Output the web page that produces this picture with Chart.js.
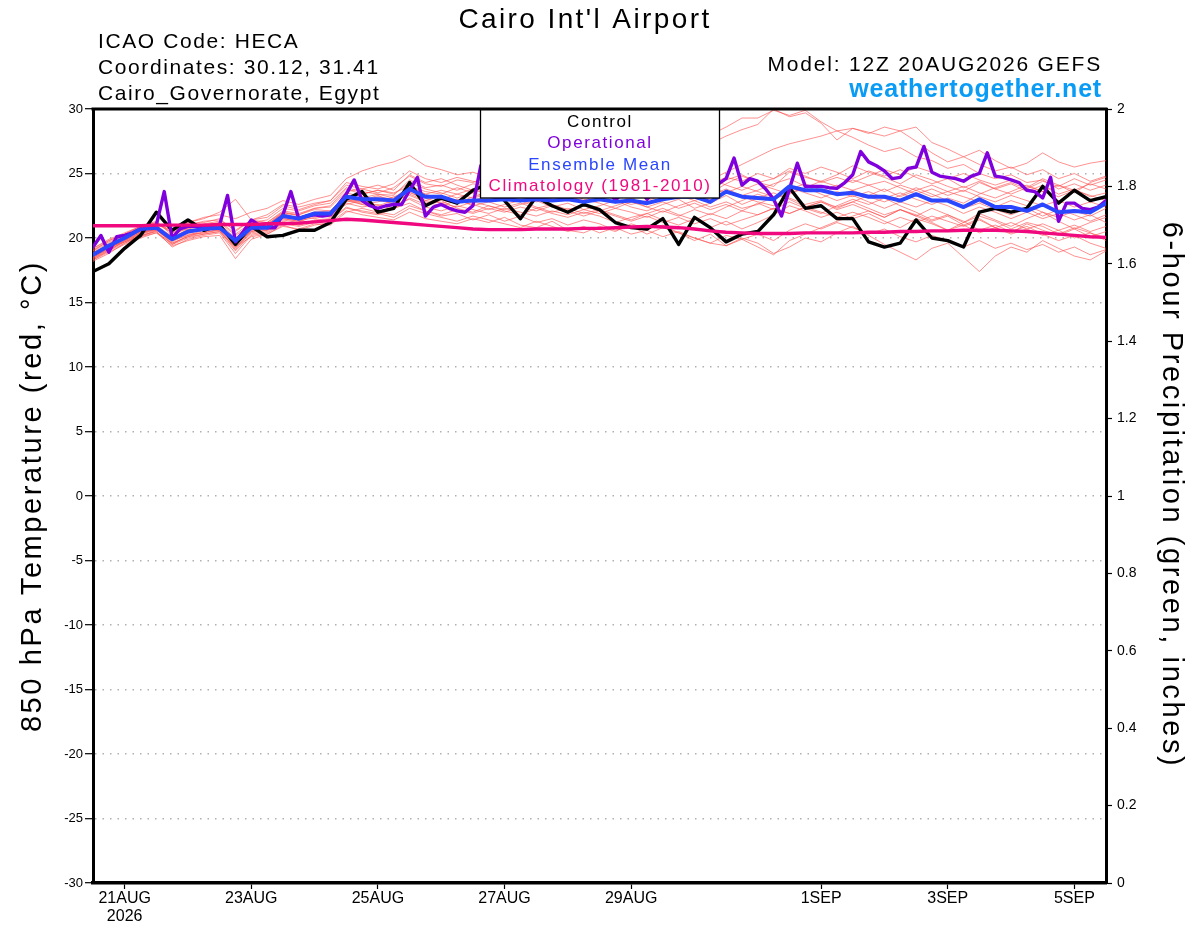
<!DOCTYPE html>
<html lang="en">
<head>
<meta charset="UTF-8">
<title>Cairo Int'l Airport - GEFS 850 hPa Temperature</title>
<script src="https://cdn.jsdelivr.net/npm/chart.js@4.4.0/dist/chart.umd.min.js"></script>
<style>
  html, body { margin: 0; padding: 0; background: #fff; }
  canvas { display: block; }
</style>
</head>
<body>
<canvas id="plume" width="1200" height="927"></canvas>
<script>
// forecast hours from 12Z 20AUG2026 (6-hourly for GEFS, 3-hourly for operational)
const hours6 = Array.from({length: 65}, (_, i) => i * 6);
const hours3 = Array.from({length: 129}, (_, i) => i * 3);

const dateTicks = [12, 60, 108, 156, 204, 276, 324, 372];
const dateLabels = [['21AUG', '2026'], '23AUG', '25AUG', '27AUG', '29AUG', '1SEP', '3SEP', '5SEP'];

const control = [17.4,18.0,19.2,20.2,22.0,20.6,21.4,20.6,21.0,19.5,
  20.9,20.1,20.2,20.6,20.6,21.2,23.0,23.6,22.0,22.3,
  24.3,22.5,23.1,22.7,23.7,24.2,22.9,21.5,23.2,22.5,
  22.0,22.6,22.2,21.2,20.8,20.7,21.5,19.5,21.6,20.8,
  19.7,20.3,20.5,21.8,23.9,22.3,22.5,21.5,21.5,19.7,
  19.3,19.6,21.4,20.0,19.8,19.3,22.0,22.3,22.0,22.3,
  24.0,22.7,23.7,22.9,23.2];

const operational = [19.3,20.2,18.9,20.1,20.2,20.4,20.7,20.8,21.0,23.6,
  20.0,20.7,20.9,20.9,20.9,20.9,21.0,23.3,19.7,20.5,
  21.4,21.0,20.8,20.8,21.8,23.6,21.5,21.7,21.8,21.7,
  21.8,22.6,23.4,24.5,22.9,22.5,22.3,22.5,22.6,22.6,
  23.7,24.7,21.7,22.4,22.6,22.3,22.1,22.0,22.5,25.6,
  24.0,23.8,24.5,24.0,23.6,24.2,23.8,24.5,24.1,23.7,
  24.3,23.9,24.6,24.0,23.5,23.8,22.9,23.6,24.2,23.8,
  23.0,23.7,24.3,24.0,23.6,24.4,24.0,23.7,23.9,24.2,
  24.6,26.2,24.1,24.6,24.4,23.8,23.0,21.7,23.8,25.8,
  24.0,24.0,24.0,23.9,23.85,24.3,24.9,26.7,25.9,25.6,
  25.2,24.6,24.7,25.4,25.5,27.1,25.1,24.8,24.7,24.6,
  24.4,24.8,25.0,26.6,24.8,24.7,24.5,24.3,23.7,23.6,
  23.1,24.7,21.3,22.7,22.7,22.3,22.2,22.4,22.9];

const ensMean = [18.7,19.4,20.0,20.7,20.8,19.9,20.5,20.7,20.8,19.8,
  20.8,20.8,21.7,21.5,21.9,21.9,23.2,23.0,23.0,22.9,
  23.8,23.2,23.2,22.8,22.9,22.9,23.0,22.9,23.0,22.9,
  23.0,22.8,23.0,22.8,22.9,22.7,23.0,23.2,23.2,22.8,
  23.6,23.2,23.1,23.0,24.0,23.7,23.7,23.4,23.5,23.2,
  23.2,22.9,23.4,22.9,22.9,22.4,23.0,22.4,22.4,22.1,
  22.6,22.0,22.1,22.0,22.7];

const climatology = [20.95,20.95,20.95,20.95,21.0,21.0,21.0,21.0,21.05,21.05,
  21.05,21.1,21.1,21.15,21.25,21.35,21.45,21.4,21.3,21.2,
  21.1,21.0,20.9,20.8,20.7,20.65,20.65,20.65,20.7,20.7,
  20.7,20.75,20.75,20.8,20.85,20.9,20.85,20.8,20.7,20.55,
  20.45,20.4,20.35,20.35,20.35,20.4,20.4,20.4,20.4,20.45,
  20.45,20.5,20.5,20.55,20.55,20.6,20.6,20.6,20.55,20.5,
  20.4,20.3,20.2,20.1,20.05];

const members = [
  [19.0,19.8,20.3,20.9,21.3,20.2,20.8,21.1,21.3,20.3,21.2,21.4,22.3,22.1,22.5,22.7,
   23.9,23.6,23.4,23.3,24.5,23.9,24.1,23.7,24.2,24.0,24.3,24.1,24.6,24.4,24.9,25.2,
   25.6,25.9,26.3,26.1,26.8,27.2,27.5,28.0,28.6,29.3,29.3,29.9,29.5,29.9,29.0,28.3,
   27.8,27.2,26.7,27.0,26.3,26.0,25.4,25.7,25.0,24.6,24.9,24.3,24.5,23.8,24.2,23.7,24.1],
  [18.5,19.2,19.8,20.4,20.9,20.0,20.6,20.6,21.0,19.6,20.7,21.0,22.0,21.8,22.3,22.4,
   23.6,23.8,23.5,23.9,24.8,24.2,24.0,24.5,24.3,24.8,25.1,24.7,25.0,25.3,25.0,25.6,
   25.4,25.9,25.6,26.0,26.3,26.0,26.6,27.3,27.9,28.4,28.8,30.0,29.4,29.7,28.9,27.6,
   28.5,28.2,27.9,28.3,28.6,27.4,26.9,26.3,26.8,26.0,25.4,25.8,26.6,25.9,25.5,25.8,26.0],
  [19.2,19.9,20.4,20.9,21.1,20.6,21.2,21.6,21.8,21.5,22.0,22.3,22.9,22.6,23.0,23.3,
   24.6,25.2,25.6,25.9,26.4,25.6,25.3,24.9,25.1,24.7,24.3,24.6,24.0,23.8,24.3,23.9,
   23.6,24.1,23.8,23.3,23.9,24.4,23.8,23.5,24.2,24.8,24.3,24.0,25.1,24.7,24.4,24.9,
   25.6,25.1,24.7,24.2,24.9,24.5,24.0,23.6,24.3,23.8,23.4,23.9,24.6,24.1,23.5,24.3,24.7],
  [18.3,18.9,19.5,20.0,20.4,19.4,19.8,20.1,20.2,18.4,19.9,20.3,21.0,20.6,21.0,21.2,
   22.1,21.8,21.6,21.4,22.0,21.5,21.3,21.1,21.5,21.2,21.6,21.0,20.8,21.3,20.6,20.4,
   20.9,20.5,21.1,20.7,21.0,20.4,19.8,20.3,19.4,20.0,19.6,18.8,19.3,20.0,19.7,20.4,
   20.9,20.2,19.5,18.9,18.3,19.2,19.6,18.5,17.4,18.6,19.3,18.9,19.8,19.2,18.6,18.3,19.0],
  [18.6,19.3,19.9,20.5,20.6,19.7,20.3,20.4,20.7,19.3,20.4,20.6,21.4,21.2,21.8,21.6,
   22.7,22.4,22.6,22.2,23.1,22.6,22.9,22.3,22.0,22.5,22.1,21.8,22.3,21.9,21.6,22.0,
   21.7,21.2,21.6,21.9,21.4,21.0,21.5,20.8,21.3,20.7,21.2,21.8,22.5,22.1,21.6,22.0,
   21.5,21.9,21.3,20.8,21.5,21.1,20.6,21.2,21.9,21.4,20.9,21.5,22.0,21.3,20.7,21.2,21.6],
  [18.9,19.5,20.1,20.7,21.0,20.1,20.4,20.9,21.1,20.0,21.1,21.0,21.9,21.8,22.2,22.1,
   23.3,23.1,23.4,23.1,24.0,23.6,23.4,23.9,23.5,23.8,24.2,23.7,23.4,23.9,24.1,23.6,
   23.9,23.4,23.1,23.6,23.9,24.4,24.0,23.6,24.5,24.9,24.3,24.6,25.4,25.0,25.5,25.1,
   24.6,25.2,24.8,25.3,24.7,24.2,24.6,23.9,24.4,23.8,24.2,23.6,24.1,23.4,23.8,23.2,23.5],
  [18.4,19.1,19.7,20.3,20.7,19.6,20.1,20.5,20.6,19.2,20.6,20.9,21.5,21.3,21.6,21.8,
   22.9,22.6,22.8,23.2,23.6,22.9,22.7,22.4,22.8,22.5,22.2,22.6,22.9,22.4,22.7,22.2,
   22.5,22.9,22.4,22.1,22.6,23.0,22.3,22.7,23.3,22.6,23.1,23.5,23.0,22.4,22.8,22.2,
   22.6,22.1,21.6,22.2,21.8,21.3,21.7,21.0,21.5,20.8,20.4,21.1,20.6,20.2,20.7,20.1,20.5],
  [18.7,19.4,20.1,20.6,20.9,20.0,20.7,20.6,20.9,19.9,20.7,20.7,21.6,21.4,21.9,22.0,
   23.5,23.2,22.9,22.7,23.9,23.4,23.0,22.7,23.2,23.5,23.1,22.8,23.3,23.6,23.2,22.9,
   23.4,23.0,22.6,22.9,23.3,23.7,23.4,23.0,23.6,23.2,22.8,22.5,23.1,22.6,22.9,22.3,
   22.8,23.3,23.8,23.2,23.7,24.1,23.6,23.2,22.8,22.4,22.9,22.5,22.0,21.6,22.1,21.7,22.3],
  [18.2,18.8,19.6,20.2,20.5,19.3,19.9,20.2,20.4,18.8,20.2,20.4,21.1,20.9,21.2,21.4,
   22.4,22.0,21.8,22.3,22.7,22.1,21.7,21.9,21.4,21.8,21.3,21.7,21.2,21.5,21.0,21.4,
   21.1,20.6,20.9,20.3,20.8,20.4,20.0,19.6,20.2,19.9,19.3,18.7,19.8,20.3,20.8,21.3,
   21.7,22.1,21.6,22.2,21.7,22.3,21.8,21.2,21.7,21.3,20.7,21.2,20.9,20.3,20.8,20.4,20.0],
  [19.1,19.7,20.2,20.7,21.1,20.4,21.0,21.3,21.4,20.6,21.4,21.6,22.5,22.2,22.6,22.9,
   24.1,23.8,24.1,23.7,24.9,24.3,24.6,24.1,23.7,24.0,23.6,23.3,23.8,23.5,23.1,23.4,
   23.0,23.5,23.9,24.3,23.8,23.4,23.9,24.5,25.1,25.7,26.3,26.9,27.3,27.6,27.9,28.3,
   28.5,28.1,28.6,28.3,27.5,26.6,25.9,26.3,25.7,25.2,25.5,24.9,25.3,24.6,25.0,24.4,24.8],
  [18.8,19.5,20.0,20.5,20.8,19.8,20.5,20.8,20.7,19.6,20.9,20.9,21.8,21.6,22.0,21.9,
   23.0,22.7,23.1,22.8,23.4,22.9,23.3,22.7,22.9,23.3,23.7,23.2,22.8,23.1,23.5,23.0,
   22.7,22.3,22.8,22.4,22.0,22.5,22.9,22.4,22.8,22.3,22.6,23.2,23.8,24.2,23.7,23.3,
   23.7,23.2,22.8,23.3,23.9,23.4,22.9,22.3,22.7,22.2,21.8,22.3,21.7,22.2,21.8,21.3,21.8],
  [18.5,19.2,19.9,20.4,20.7,19.8,20.2,20.6,20.8,19.5,20.5,20.6,21.3,21.0,21.4,21.5,
   22.8,23.0,22.5,22.9,23.3,22.8,22.5,22.9,22.6,22.2,22.6,22.9,22.4,22.0,22.3,21.9,
   22.2,21.8,21.4,21.9,22.3,21.8,21.4,21.9,21.5,22.1,22.7,22.2,22.8,22.3,21.9,22.5,
   23.0,22.6,23.1,22.5,22.0,21.4,21.8,21.3,20.6,21.0,20.5,20.9,20.3,19.8,20.2,19.6,19.2],
  [18.6,19.3,19.7,20.2,20.5,19.5,20.0,20.3,20.5,19.0,20.3,20.5,21.2,21.0,21.3,21.4,
   22.3,22.1,21.9,21.6,22.3,21.9,21.6,21.3,21.7,21.4,21.1,20.8,21.3,20.9,20.5,20.9,
   20.4,20.8,20.3,20.6,20.1,20.5,20.0,19.6,19.4,19.9,20.3,19.8,20.6,21.1,20.7,21.2,
   20.8,20.3,20.7,20.1,19.7,20.2,19.8,19.3,19.8,19.2,19.6,19.1,19.5,18.9,19.3,18.7,19.1],
  [19.0,19.6,20.2,20.8,21.2,20.4,20.7,21.0,21.2,20.2,21.0,21.2,22.1,21.9,22.3,22.5,
   23.8,23.4,23.7,23.4,24.3,23.8,23.5,23.1,23.5,23.2,23.5,23.9,23.6,23.2,23.6,23.8,
   23.5,23.8,24.2,23.9,24.5,24.1,24.6,24.2,24.7,24.4,25.0,24.6,25.2,24.8,24.3,24.7,
   24.3,24.8,25.3,24.9,25.5,25.1,24.6,25.0,24.5,24.1,24.5,24.0,23.6,24.1,23.7,24.2,23.8],
  [18.4,19.0,19.6,20.1,20.6,20.2,21.2,21.5,22.0,23.0,21.4,21.2,22.0,21.7,21.5,21.8,
   22.6,22.9,23.3,22.8,23.5,23.1,22.7,23.0,22.5,22.8,22.4,22.7,22.3,22.6,22.2,22.5,
   22.1,22.5,22.9,22.4,22.8,22.3,22.7,22.2,22.6,22.1,21.8,22.3,21.9,22.4,22.0,21.6,
   22.0,21.6,21.1,21.6,21.2,21.7,21.3,20.9,21.4,20.8,21.2,20.7,21.1,20.6,21.0,20.5,20.9],
  [18.8,19.4,20.0,20.5,20.8,19.9,20.6,20.8,21.0,19.7,20.8,21.1,21.9,21.5,22.0,22.1,
   23.2,23.4,23.7,23.5,24.0,23.4,23.7,23.4,23.1,23.4,23.0,23.4,23.7,23.3,23.0,23.3,
   23.7,23.3,23.0,23.4,23.0,23.3,22.9,23.3,23.8,23.3,23.7,24.2,24.6,24.0,23.6,24.1,
   23.7,24.1,24.4,23.9,23.4,23.8,23.3,23.7,23.2,22.8,23.3,22.9,22.5,22.9,22.4,22.8,22.4],
  [18.3,19.0,19.8,20.4,20.7,19.5,20.2,20.4,20.6,19.1,20.5,20.8,21.5,21.3,21.8,21.7,
   23.0,22.6,22.3,22.6,23.0,22.4,22.1,22.5,22.2,21.9,22.3,22.0,21.7,22.1,21.8,22.2,
   21.9,22.3,22.0,21.6,22.1,21.7,22.2,21.8,22.4,22.9,23.4,23.0,23.5,23.9,23.4,22.9,
   23.3,22.8,22.3,22.8,22.4,22.9,22.5,21.9,22.4,22.0,21.5,22.0,21.5,21.9,21.4,21.8,21.2],
  [19.2,19.8,20.3,20.9,21.2,20.5,21.1,21.2,21.5,20.5,21.4,21.8,22.6,22.4,22.7,22.9,
   24.3,24.0,23.8,24.2,25.2,24.6,24.3,24.7,24.4,24.1,24.5,24.2,24.6,24.3,24.0,24.4,
   24.1,24.5,24.1,23.8,24.2,23.8,23.5,23.9,23.5,24.0,23.6,23.2,23.9,23.5,23.1,23.6,
   23.2,23.6,23.1,23.5,23.0,22.6,23.1,22.7,23.4,23.9,24.3,23.8,24.4,24.0,24.6,24.1,24.5],
  [18.6,19.2,19.8,20.3,20.6,19.8,20.4,20.6,20.9,19.4,20.6,20.7,21.6,21.5,21.9,21.8,
   23.1,22.8,23.2,23.0,23.7,23.3,23.0,23.4,23.8,23.4,23.9,24.3,23.9,24.4,24.1,23.7,
   24.0,23.6,23.9,24.4,24.8,24.3,24.0,24.6,24.1,23.7,24.2,23.8,23.4,23.9,24.4,24.0,
   24.5,24.1,23.6,24.1,23.7,23.2,23.6,24.0,23.5,23.1,23.6,24.1,23.6,23.2,23.7,23.3,22.9],
  [18.5,19.1,19.7,20.1,20.4,19.6,20.1,20.3,20.5,19.3,20.1,20.3,20.9,20.7,21.1,21.0,
   22.0,22.3,22.0,21.8,22.5,22.1,21.8,22.2,21.9,22.3,22.0,22.4,22.1,22.5,22.1,21.7,
   22.1,21.7,21.3,21.7,21.2,21.6,21.1,21.5,21.0,21.4,21.8,22.3,21.9,22.4,22.8,22.4,
   22.8,22.3,21.8,22.2,21.7,21.2,20.6,21.0,20.4,20.8,20.3,20.7,20.2,20.6,20.0,20.4,19.8]
];

const tempTicks = { min: -30, max: 30, step: 5 };
const precipTicks = { min: 0, max: 2, step: 0.2 };

const legendItems = [
  ['Control', '#000000'],
  ['Operational', '#7f00dc'],
  ['Ensemble Mean', '#2a46ff'],
  ['Climatology (1981-2010)', '#f0087f']
];

const FONT = "'Liberation Sans', Arial, Helvetica, sans-serif";

function toXY(xs, ys) { return ys.map((v, i) => ({x: xs[i], y: v})); }

function putText(ctx, s, x, y, size, color, align, spacing, weight) {
  ctx.font = (weight || 'normal') + ' ' + size + 'px ' + FONT;
  ctx.fillStyle = color;
  ctx.textAlign = align;
  ctx.textBaseline = 'alphabetic';
  if ('letterSpacing' in ctx) ctx.letterSpacing = spacing + 'px';
  ctx.fillText(s, x, y);
  if ('letterSpacing' in ctx) ctx.letterSpacing = '0px';
}

const decor = {
  id: 'decor',
  afterDatasetsDraw(chart) {
    const ctx = chart.ctx, a = chart.chartArea;
    ctx.save();
    // legend box sits over the lines
    ctx.fillStyle = '#fff';
    ctx.fillRect(480, a.top, 239, 89);
    ctx.strokeStyle = '#000';
    ctx.lineWidth = 1.3;
    ctx.strokeRect(480.5, a.top, 239, 89);
    const base = [127, 148, 170, 191];
    legendItems.forEach((it, i) => putText(ctx, it[0], 600, base[i], 17, it[1], 'center', 1.6));
    // top frame line
    ctx.lineWidth = 3;
    ctx.beginPath();
    ctx.moveTo(a.left - 1.5, a.top);
    ctx.lineTo(a.right + 1.5, a.top);
    ctx.stroke();
    ctx.restore();
  },
  afterDraw(chart) {
    const ctx = chart.ctx;
    ctx.save();
    putText(ctx, "Cairo Int'l Airport", 585, 28, 28, '#000', 'center', 2.4);
    putText(ctx, 'ICAO Code: HECA', 98, 48, 21, '#000', 'left', 1.6);
    putText(ctx, 'Coordinates: 30.12, 31.41', 98, 74, 21, '#000', 'left', 1.6);
    putText(ctx, 'Cairo_Governorate, Egypt', 98, 100, 21, '#000', 'left', 1.6);
    putText(ctx, 'Model: 12Z 20AUG2026 GEFS', 1102, 71, 21, '#000', 'right', 1.8);
    putText(ctx, 'weathertogether.net', 1102, 97, 25, '#0a9cf5', 'right', 0.8, 'bold');

    ctx.save();
    ctx.translate(41, 496);
    ctx.rotate(-Math.PI / 2);
    putText(ctx, '850 hPa Temperature (red, \u00B0C)', 0, 0, 29, '#000', 'center', 2.6);
    ctx.restore();

    ctx.save();
    ctx.translate(1163, 495);
    ctx.rotate(Math.PI / 2);
    putText(ctx, '6-hour Precipitation (green, inches)', 0, 0, 29, '#000', 'center', 2.6);
    ctx.restore();
    ctx.restore();
  }
};

const datasets = [
  {label: 'Climatology (1981-2010)', data: toXY(hours6, climatology), borderColor: '#f0087f', borderWidth: 3.4},
  {label: 'Ensemble Mean', data: toXY(hours6, ensMean), borderColor: '#2a46ff', borderWidth: 4},
  {label: 'Operational', data: toXY(hours3, operational), borderColor: '#7f00dc', borderWidth: 3.4},
  {label: 'Control', data: toXY(hours6, control), borderColor: '#000000', borderWidth: 3.4}
];
members.forEach((m, k) => datasets.push({
  label: 'Member ' + (k + 1), data: toXY(hours6, m),
  borderColor: 'rgba(255,80,80,0.7)', borderWidth: 0.9
}));

new Chart(document.getElementById('plume'), {
  type: 'line',
  data: {datasets},
  options: {
    responsive: false,
    animation: false,
    devicePixelRatio: 1,
    layout: {padding: {top: 109, left: 0, right: 0, bottom: 0}},
    elements: {
      point: {radius: 0},
      line: {tension: 0, borderJoinStyle: 'round', borderCapStyle: 'round', fill: false}
    },
    plugins: {legend: {display: false}, tooltip: {enabled: false}},
    scales: {
      x: {
        type: 'linear', min: 0, max: 384,
        afterBuildTicks: s => { s.ticks = dateTicks.map(v => ({value: v})); },
        afterFit: s => { s.height = 44; },
        ticks: {
          autoSkip: false, maxRotation: 0, padding: 1, color: '#000',
          font: {family: FONT, size: 16, lineHeight: 1.1},
          callback: (v, i) => dateLabels[i]
        },
        grid: {drawOnChartArea: false, tickLength: 6, tickColor: '#000', tickWidth: 1.2},
        border: {color: '#000', width: 3.5}
      },
      y: {
        position: 'left', min: tempTicks.min, max: tempTicks.max,
        afterFit: s => { s.width = 93; },
        ticks: {stepSize: tempTicks.step, color: '#000', padding: 2, font: {family: FONT, size: 13}},
        grid: {
          color: c => (Math.abs(c.tick.value) === 30 ? 'rgba(0,0,0,0)' : '#b0b0b0'),
          lineWidth: 1.4, tickLength: 8, tickColor: '#000', tickWidth: 1.2, tickBorderDash: []
        },
        border: {color: '#000', width: 3, dash: [1.5, 6]}
      },
      y1: {
        position: 'right', min: precipTicks.min, max: precipTicks.max,
        afterFit: s => { s.width = 94; },
        ticks: {
          stepSize: precipTicks.step, color: '#000', padding: 5, font: {family: FONT, size: 14},
          callback: v => String(Math.round(v * 10) / 10)
        },
        grid: {drawOnChartArea: false, tickLength: 6, tickColor: '#000', tickWidth: 1.2},
        border: {color: '#000', width: 3}
      }
    }
  },
  plugins: [decor]
});
</script>
</body>
</html>
